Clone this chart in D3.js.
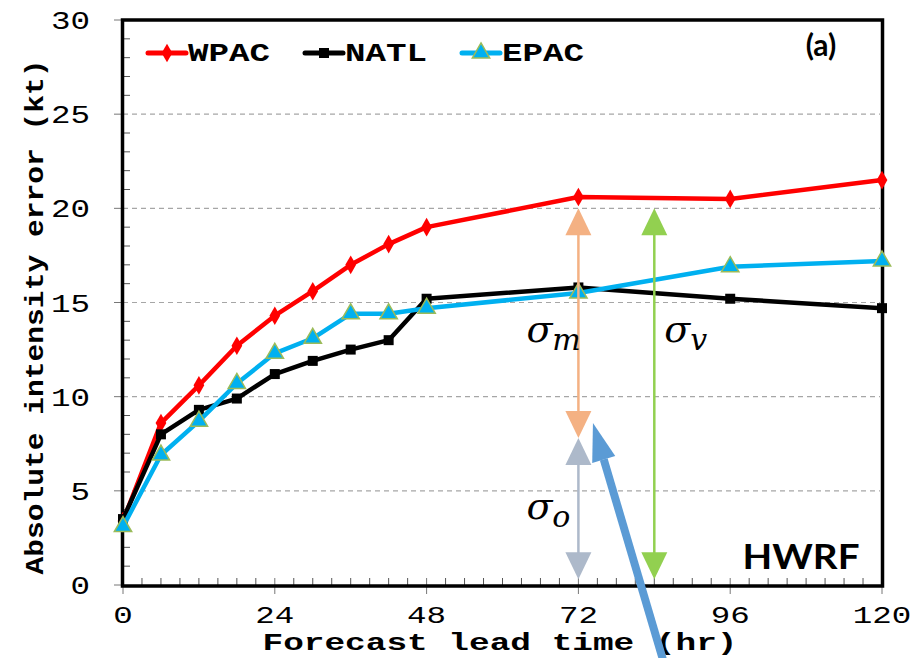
<!DOCTYPE html>
<html>
<head>
<meta charset="utf-8">
<script src="https://cdn.jsdelivr.net/npm/d3@7"></script>
<style>
  body { margin: 0; background: #fff; }
  svg { display: block; }
</style>
</head>
<body>
<div id="chart"></div>
<script>
// chart values
const hours = [0, 6, 12, 18, 24, 30, 36, 42, 48, 72, 96, 120];
const wpac = [3.4, 8.6, 10.6, 12.7, 14.3, 15.6, 17.0, 18.1, 19.0, 20.6, 20.5, 21.5];
const natl = [3.5, 8.0, 9.3, 9.9, 11.2, 11.9, 12.5, 13.0, 15.2, 15.8, 15.2, 14.7];
const epac = [3.1, 6.9, 8.7, 10.7, 12.3, 13.1, 14.4, 14.4, 14.7, 15.5, 16.9, 17.2];
const seriesNames = ["WPAC", "NATL", "EPAC"];
const xTicks = [0, 24, 48, 72, 96, 120];
const yTicks = [0, 5, 10, 15, 20, 25, 30];

// annotation arrows (hour, from value, to value)
const sigmaArrows = [
  {name: "m", hr: 72, from: 20, to: 7.8, color: "#F4B183"},
  {name: "o", hr: 72, from: 7.8, to: 0.3, color: "#ADB9CA"},
  {name: "v", hr: 84, from: 20, to: 0.3, color: "#92D050"}
];

const width = 922, height = 658;
const margin = {top: 20, right: 40, bottom: 72, left: 123};

const svg = d3.select("#chart").append("svg")
  .attr("width", width)
  .attr("height", height);

const x = d3.scaleLinear().domain([0, 120]).range([margin.left, 882]);
const y = d3.scaleLinear().domain([0, 30]).range([585, margin.top]);

// dashed grid
svg.append("g")
  .selectAll("line")
  .data(yTicks.filter(d => d > 0 && d < 30))
  .enter().append("line")
  .attr("x1", x(0)).attr("x2", x(120) - 2)
  .attr("y1", d => y(d)).attr("y2", d => y(d))
  .attr("stroke", "#a6a6a6")
  .attr("stroke-width", 1.2)
  .attr("stroke-dasharray", "5,4");

// minor ticks (inward)
svg.append("g")
  .selectAll("line")
  .data(d3.range(1, 30).filter(d => d % 5 != 0))
  .enter().append("line")
  .attr("x1", x(0)).attr("x2", x(0) + 7)
  .attr("y1", d => y(d)).attr("y2", d => y(d))
  .attr("stroke", "#555").attr("stroke-width", 1);

svg.append("g")
  .selectAll("line")
  .data(d3.range(3, 120, 3).filter(d => d % 24 != 0))
  .enter().append("line")
  .attr("x1", d => x(d)).attr("x2", d => x(d))
  .attr("y1", y(0)).attr("y2", y(0) - 7)
  .attr("stroke", "#555").attr("stroke-width", 1);

// major ticks (outward)
svg.append("g")
  .selectAll("line")
  .data(yTicks)
  .enter().append("line")
  .attr("x1", x(0) - 9).attr("x2", x(0))
  .attr("y1", d => y(d)).attr("y2", d => y(d))
  .attr("stroke", "#777").attr("stroke-width", 1);

svg.append("g")
  .selectAll("line")
  .data(xTicks)
  .enter().append("line")
  .attr("x1", d => x(d)).attr("x2", d => x(d))
  .attr("y1", y(0) - 7).attr("y2", y(0) + 9)
  .attr("stroke", "#777").attr("stroke-width", 1);

// tick labels
svg.append("g")
  .selectAll("text")
  .data(yTicks)
  .enter().append("text")
  .attr("x", 90)
  .attr("y", d => y(d) + 9)
  .attr("text-anchor", "end")
  .attr("font-family", "Liberation Mono, monospace")
  .attr("font-size", 25)
  .attr("textLength", d => String(d).length * 19.5)
  .attr("lengthAdjust", "spacingAndGlyphs")
  .text(d => d);

svg.append("g")
  .selectAll("text")
  .data(xTicks)
  .enter().append("text")
  .attr("x", d => x(d))
  .attr("y", 623)
  .attr("text-anchor", "middle")
  .attr("font-family", "Liberation Mono, monospace")
  .attr("font-size", 24)
  .attr("textLength", d => String(d).length * 19.5)
  .attr("lengthAdjust", "spacingAndGlyphs")
  .text(d => d);

// axis titles
svg.append("text")
  .attr("x", 500).attr("y", 650)
  .attr("text-anchor", "middle")
  .attr("font-family", "Liberation Mono, monospace")
  .attr("font-weight", "bold")
  .attr("font-size", 23)
  .attr("textLength", 475)
  .attr("lengthAdjust", "spacingAndGlyphs")
  .text("Forecast lead time (hr)");

svg.append("text")
  .attr("transform", "translate(43,317) rotate(-90)")
  .attr("text-anchor", "middle")
  .attr("font-family", "Liberation Mono, monospace")
  .attr("font-weight", "bold")
  .attr("font-size", 25)
  .attr("textLength", 515)
  .attr("lengthAdjust", "spacingAndGlyphs")
  .text("Absolute intensity error (kt)");

// frame
svg.append("rect")
  .attr("x", x(0) - 0.5).attr("y", y(30))
  .attr("width", x(120) - x(0) + 1).attr("height", y(0) - y(30) + 1)
  .attr("fill", "none")
  .attr("stroke", "#000").attr("stroke-width", 3.5);

// series
const line = d3.line().x((d, i) => x(hours[i])).y(d => y(d));
const series = [
  {name: "WPAC", values: wpac, color: "#ff0000", marker: d3.symbolDiamond, size: 100, fill: "#ff0000", stroke: "none"},
  {name: "NATL", values: natl, color: "#000000", marker: d3.symbolSquare, size: 100, fill: "#000000", stroke: "none"},
  {name: "EPAC", values: epac, color: "#00b0f0", marker: d3.symbolTriangle, size: 130, fill: "#00b0f0", stroke: "#9bbb59"}
];

series.forEach(s => {
  svg.append("path")
    .datum(s.values)
    .attr("d", line)
    .attr("fill", "none")
    .attr("stroke", s.color)
    .attr("stroke-width", 4.5)
    .attr("stroke-linejoin", "round");
  svg.append("g")
    .selectAll("path")
    .data(s.values)
    .enter().append("path")
    .attr("transform", (d, i) => `translate(${x(hours[i])},${y(d)})`)
    .attr("d", d3.symbol().type(s.marker).size(s.size))
    .attr("fill", s.fill)
    .attr("stroke", s.stroke)
    .attr("stroke-width", 1.5);
});

// legend
const legendX = [148, 305, 462];
series.forEach((s, i) => {
  const g = svg.append("g").attr("transform", `translate(${legendX[i]},53)`);
  g.append("line")
    .attr("x1", 0).attr("x2", 38)
    .attr("stroke", s.color).attr("stroke-width", 5)
    .attr("stroke-linecap", "round");
  g.append("path")
    .attr("transform", "translate(19,0)")
    .attr("d", d3.symbol().type(s.marker).size(s.size))
    .attr("fill", s.fill)
    .attr("stroke", s.stroke)
    .attr("stroke-width", 1.5);
  g.append("text")
    .attr("x", 40).attr("y", 8)
    .attr("font-family", "Liberation Mono, monospace")
    .attr("font-weight", "bold")
    .attr("font-size", 25)
    .attr("textLength", 82)
    .attr("lengthAdjust", "spacingAndGlyphs")
    .text(seriesNames[i]);
});

svg.append("text")
  .attr("x", 821).attr("y", 56)
  .attr("text-anchor", "middle")
  .attr("font-family", "Lato, sans-serif")
  .attr("font-weight", "bold")
  .attr("font-size", 30)
  .text("(a)");

svg.append("text")
  .attr("x", 801).attr("y", 569)
  .attr("text-anchor", "middle")
  .attr("font-family", "Lato, sans-serif")
  .attr("font-weight", "bold")
  .attr("font-size", 34)
  .attr("textLength", 117)
  .attr("lengthAdjust", "spacingAndGlyphs")
  .text("HWRF");

// sigma double arrows
function head(g, cx, tip, dir, color) {
  // dir = -1 points up, +1 points down
  const w = 13, h = 27;
  g.append("path")
    .attr("d", `M${cx},${tip} L${cx - w},${tip - dir * h} L${cx + w},${tip - dir * h} Z`)
    .attr("fill", color);
}

sigmaArrows.forEach(a => {
  const g = svg.append("g");
  const cx = x(a.hr);
  g.append("line")
    .attr("x1", cx).attr("x2", cx)
    .attr("y1", y(a.from) + 20).attr("y2", y(a.to) - 20)
    .attr("stroke", a.color).attr("stroke-width", 2.5);
  head(g, cx, y(a.from), -1, a.color);
  head(g, cx, y(a.to), 1, a.color);
});

// sigma labels
const sigmaLabels = [
  {sub: "m", hr: 72, val: 12.9, dx: -52},
  {sub: "v", hr: 84, val: 12.9, dx: 10},
  {sub: "o", hr: 72, val: 3.5, dx: -52}
];
sigmaLabels.forEach(l => {
  const t = svg.append("text")
    .attr("x", x(l.hr) + l.dx).attr("y", y(l.val))
    .attr("font-family", "DejaVu Serif, serif")
    .attr("font-style", "italic")
    .attr("font-size", 38);
  t.append("tspan").text("σ");
  t.append("tspan").attr("dy", 8).attr("font-size", 30).text(l.sub);
});

// blue pointer arrow
const ptrFrom = [85.4, -4.0], ptrTo = [74.3, 8.6];
const p0 = [x(ptrFrom[0]), y(ptrFrom[1])], p1 = [x(ptrTo[0]), y(ptrTo[1])];
const ang = Math.atan2(p1[1] - p0[1], p1[0] - p0[0]);
const headLen = 38, headW = 12;
const bx = p1[0] - headLen * Math.cos(ang), by = p1[1] - headLen * Math.sin(ang);
svg.append("line")
  .attr("x1", p0[0]).attr("y1", p0[1])
  .attr("x2", bx).attr("y2", by)
  .attr("stroke", "#5b9bd5").attr("stroke-width", 8);
svg.append("path")
  .attr("d", `M${p1[0]},${p1[1]} L${bx + headW * Math.sin(ang)},${by - headW * Math.cos(ang)} L${bx - headW * Math.sin(ang)},${by + headW * Math.cos(ang)} Z`)
  .attr("fill", "#5b9bd5");
</script>
</body>
</html>
